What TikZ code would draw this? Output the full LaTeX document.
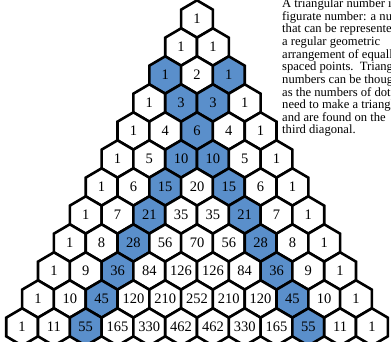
\documentclass[tikz,border=0pt]{standalone}
\usepackage{fontspec}
\setmainfont{Liberation Serif}
\usepackage{xcolor}
\usepackage{tikz}
\usetikzlibrary{positioning,calc}
\definecolor{ptBlue}{HTML}{5A8FCB}
\definecolor{ptEdge}{HTML}{000000}
\tikzset{
  hexcell/.style={draw=ptEdge, line width=2.6pt, fill=white},
  trihex/.style={hexcell, fill=ptBlue},
  entry/.style={font=\fontsize{14.5}{16}\selectfont, inner sep=0pt},
  blurb/.style={font=\fontsize{12.6}{12.64}\selectfont, align=left, inner sep=0pt, anchor=north west}
}

\begin{document}
\begin{tikzpicture}[x=1pt, y=-1pt]
  \useasboundingbox (0,0) rectangle (391,342);
  \clip (0,0) rectangle (391,342);
  % rows of the triangle, hexagons with the entries
  \foreach \row [count=\n from 0] in {{1},{1,1},{1,2,1},{1,3,3,1},{1,4,6,4,1},{1,5,10,10,5,1},{1,6,15,20,15,6,1},{1,7,21,35,35,21,7,1},{1,8,28,56,70,56,28,8,1},{1,9,36,84,126,126,84,36,9,1},{1,10,45,120,210,252,210,120,45,10,1},{1,11,55,165,330,462,462,330,165,55,11,1}}{
    \foreach \val [count=\k from 0] in \row {
      \pgfmathtruncatemacro\istri{(\k==2)||(\k==\n-2)}
      \ifnum\istri=1 \def\hexkind{trihex}\else\def\hexkind{hexcell}\fi
      \coordinate (c) at ({197+(\k-\n/2)*31.8},{19+28*\n});
      \draw[\hexkind] (c) ++(0,-18.67) -- ++(15.9,9.33) -- ++(0,18.67) -- ++(-15.9,9.33)
        -- ++(-15.9,-9.33) -- ++(0,-18.67) -- cycle;
      \node[entry] (p-\n-\k) at (c) {\val};
    }
  }
  \node[blurb] (note) at (282,-1.4) {A triangular number is a\\
    figurate number: a number\\
    that can be represented by\\
    a regular geometric\\
    arrangement of equally\\
    spaced points.\enspace Triangular\\
    numbers can be thought of\\
    as the numbers of dots you\\
    need to make a triangle\\
    and are found on the\\
    third diagonal.};
\end{tikzpicture}
\end{document}
